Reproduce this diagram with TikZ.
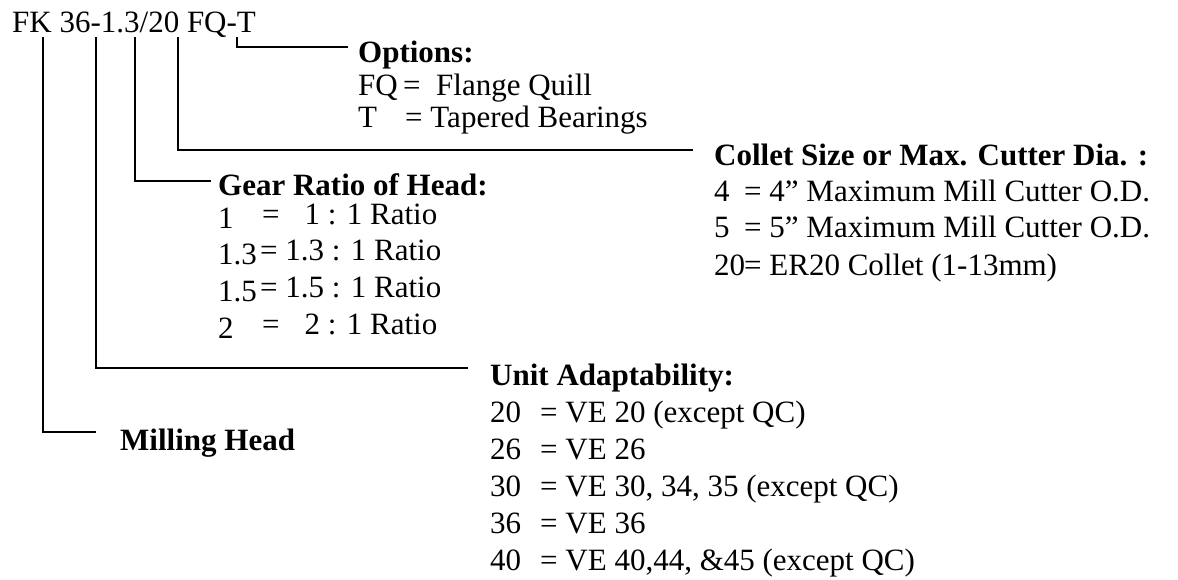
\documentclass[tikz,border=0pt]{standalone}
\usepackage{fontspec}
\setmainfont{Liberation Serif}
\usetikzlibrary{positioning}

\begin{document}
\begin{tikzpicture}
[x=1pt,y=-1pt,
leaderLine/.style={line width=1.8pt,line cap=rect},
headLabel/.style={anchor=base west,inner sep=0pt,font=\fontsize{31}{36}\selectfont\bfseries},
itemLabel/.style={anchor=base west,inner sep=0pt,font=\fontsize{31}{36}\selectfont},
codeLabel/.style={itemLabel,yshift=-4pt}]
\useasboundingbox (0,0) rectangle (1178,580);

\node[itemLabel] (model) at (12,33) {FK 36-1.3/20 FQ-T};

\node[headLabel] (options) at (358,63) {Options:};
\node[itemLabel] (fqCode) at (358,96) {FQ};
\node[itemLabel] (fqText) at (403,96) {= \ Flange Quill};
\node[itemLabel] (tCode) at (358,128) {T};
\node[itemLabel] (tText) at (405,128) {= Tapered Bearings};

\node[headLabel] (collet) at (714,166) {Collet Size or Max. Cutter Dia. :};
\node[itemLabel] (c4Code) at (714,202) {4};
\node[itemLabel] (c4Text) at (744,202) {= 4” Maximum Mill Cutter O.D.};
\node[itemLabel] (c5Code) at (714,238) {5};
\node[itemLabel] (c5Text) at (744,238) {= 5” Maximum Mill Cutter O.D.};
\node[itemLabel] (c20Code) at (714,275) {20};
\node[itemLabel] (c20Text) at (744,275) {= ER20 Collet (1-13mm)};

\node[headLabel] (gear) at (218,196) {Gear Ratio of Head:};
\node[codeLabel] (g1Code) at (218,225) {1};
\node[itemLabel] (g1Text) at (262,225) {=\hspace{25pt}1 : 1 Ratio};
\node[codeLabel] (g13Code) at (218,261) {1.3};
\node[itemLabel] (g13Text) at (260,261) {= 1.3 : 1 Ratio};
\node[codeLabel] (g15Code) at (218,297) {1.5};
\node[itemLabel] (g15Text) at (260,297) {= 1.5 : 1 Ratio};
\node[codeLabel] (g2Code) at (218,334) {2};
\node[itemLabel] (g2Text) at (262,334) {=\hspace{25pt}2 : 1 Ratio};

\node[headLabel] (unit) at (490,385) {Unit Adaptability:};
\node[itemLabel] (u20Code) at (490,422) {20};
\node[itemLabel] (u20Text) at (540,422) {= VE 20 (except QC)};
\node[itemLabel] (u26Code) at (490,459) {26};
\node[itemLabel] (u26Text) at (540,459) {= VE 26};
\node[itemLabel] (u30Code) at (490,496) {30};
\node[itemLabel] (u30Text) at (540,496) {= VE 30, 34, 35 (except QC)};
\node[itemLabel] (u36Code) at (490,533) {36};
\node[itemLabel] (u36Text) at (540,533) {= VE 36};
\node[itemLabel] (u40Code) at (490,570) {40};
\node[itemLabel] (u40Text) at (540,570) {= VE 40,44, \&45 (except QC)};

\node[headLabel] (mill) at (120,450) {Milling Head};

% leader lines from the model code
\coordinate (topMill) at (43,38);
\coordinate (topUnit) at (96,38);
\coordinate (topGear) at (135,38);
\coordinate (topCollet) at (178,38);
\coordinate (topOptions) at (237,38);
\coordinate (endMill) at (95,432);
\coordinate (endUnit) at (467,368);
\coordinate (endGear) at (210,181);
\coordinate (endCollet) at (692,150);
\coordinate (endOptions) at (347,47);
\draw[leaderLine] (topMill) |- (endMill);
\draw[leaderLine] (topUnit) |- (endUnit);
\draw[leaderLine] (topGear) |- (endGear);
\draw[leaderLine] (topCollet) |- (endCollet);
\draw[leaderLine] (topOptions) |- (endOptions);
\end{tikzpicture}
\end{document}
